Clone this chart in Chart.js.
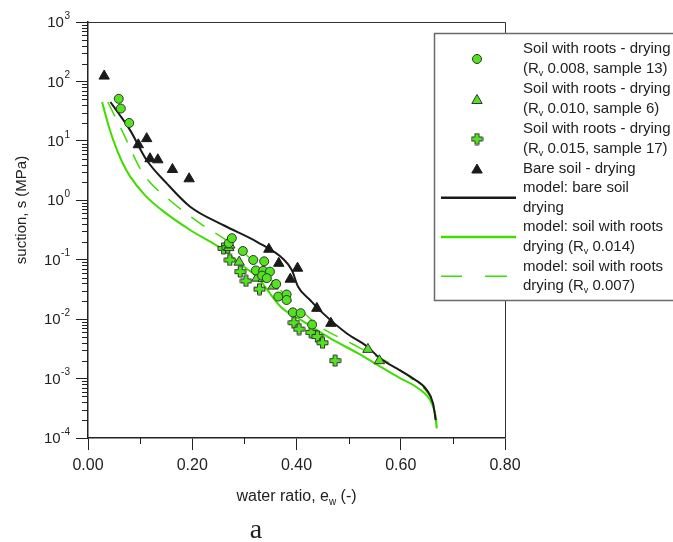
<!DOCTYPE html>
<html><head><meta charset="utf-8">
<script src="https://cdn.jsdelivr.net/npm/chart.js@4.4.1/dist/chart.umd.min.js"></script>
<style>html,body{margin:0;padding:0;background:#fff;}#wrap{position:relative;width:673px;height:542px;}</style>
</head><body><div id="wrap"><canvas id="c" width="673" height="542"></canvas></div>
<script>
// ---------- data ----------
const xMajorTicks = [0, 0.2, 0.4, 0.6, 0.8];
const xMinorTicks = [0.1, 0.3, 0.5, 0.7];
const yExponents = [3, 2, 1, 0, -1, -2, -3, -4];

const circX = [0.059, 0.063, 0.079, 0.27, 0.276, 0.297, 0.317, 0.338, 0.322, 0.336, 0.349, 0.334, 0.343, 0.361, 0.365, 0.381, 0.381, 0.393, 0.408, 0.43];
const circY = [51, 35, 20, 0.19, 0.23, 0.14, 0.099, 0.094, 0.066, 0.065, 0.063, 0.054, 0.049, 0.039, 0.024, 0.026, 0.021, 0.013, 0.0126, 0.0081];

const triX = [0.27, 0.272, 0.29, 0.324, 0.336, 0.355, 0.537, 0.559];
const triY = [0.16, 0.177, 0.091, 0.049, 0.048, 0.036, 0.0031, 0.002];

const crossX = [0.26, 0.268, 0.272, 0.292, 0.303, 0.329, 0.395, 0.405, 0.428, 0.44, 0.45, 0.474];
const crossY = [0.155, 0.16, 0.099, 0.063, 0.044, 0.032, 0.0087, 0.0068, 0.006, 0.0051, 0.004, 0.002];

const bareX = [0.031, 0.0965, 0.1126, 0.119, 0.134, 0.162, 0.194, 0.347, 0.366, 0.402, 0.388, 0.439, 0.466];
const bareY = [123, 8.6, 10.9, 5.0, 4.8, 3.3, 2.3, 0.15, 0.087, 0.072, 0.047, 0.0152, 0.0085];

const modelBareX = [0.043, 0.06, 0.081, 0.112, 0.151, 0.196, 0.26, 0.324, 0.375, 0.391, 0.403, 0.426, 0.451, 0.496, 0.535, 0.56, 0.6, 0.624, 0.65, 0.662, 0.667];
const modelBareY = [45, 28, 15, 4.8, 1.93, 0.78, 0.38, 0.2, 0.102, 0.067, 0.035, 0.021, 0.0125, 0.0058, 0.0035, 0.0022, 0.00135, 0.001, 0.00064, 0.00038, 0.0002];

const modelR014X = [0.027, 0.038, 0.049, 0.065, 0.081, 0.11, 0.141, 0.196, 0.26, 0.3, 0.324, 0.37, 0.41, 0.464, 0.52, 0.56, 0.6, 0.624, 0.645, 0.656, 0.664, 0.668, 0.669];
const modelR014Y = [45, 20, 10, 4.5, 2.5, 1.2, 0.69, 0.316, 0.146, 0.075, 0.052, 0.016, 0.0095, 0.0048, 0.0026, 0.0016, 0.001, 0.00078, 0.00057, 0.00044, 0.0003, 0.0002, 0.000145];

const modelR007X = [0.038, 0.065, 0.106, 0.157, 0.215, 0.27, 0.3, 0.33, 0.388, 0.445, 0.503, 0.54, 0.58, 0.624, 0.65, 0.662, 0.667, 0.669];
const modelR007Y = [45, 15, 2.8, 1.0, 0.41, 0.2, 0.13, 0.07, 0.021, 0.0075, 0.004, 0.0027, 0.0018, 0.00095, 0.0006, 0.00036, 0.0002, 0.00015];

const legendLabels = [
  ["Soil with roots - drying", ["(R", "v", " 0.008, sample 13)"]],
  ["Soil with roots - drying", ["(R", "v", " 0.010, sample 6)"]],
  ["Soil with roots - drying", ["(R", "v", " 0.015, sample 17)"]],
  ["Bare soil - drying"],
  ["model: bare soil", "drying"],
  ["model: soil with roots", ["drying (R", "v", " 0.014)"]],
  ["model: soil with roots", ["drying (R", "v", " 0.007)"]]
];
const xTitle = ["water ratio, e", "w", " (-)"];
const yTitle = "suction, s (MPa)";
const panelLabel = "a";

// ---------- styles ----------
const GREEN = '#52e31f';
const GREEN_LINE = '#3fdd00';
const EDGE = '#333333';
const DARK = '#1a1a1a';
const FONT = "'Liberation Sans', Arial, sans-serif";
const TXT = '#222222';

const pts = (xs, ys) => xs.map((v, i) => ({x: v, y: ys[i]}));

function makePlus(size, arm) {
  const c = document.createElement('canvas');
  c.width = size + 2; c.height = size + 2;
  const g = c.getContext('2d');
  const o = 1, s = size, h = (s - arm) / 2;
  g.beginPath();
  g.moveTo(o + h, o); g.lineTo(o + h + arm, o); g.lineTo(o + h + arm, o + h);
  g.lineTo(o + s, o + h); g.lineTo(o + s, o + h + arm); g.lineTo(o + h + arm, o + h + arm);
  g.lineTo(o + h + arm, o + s); g.lineTo(o + h, o + s); g.lineTo(o + h, o + h + arm);
  g.lineTo(o, o + h + arm); g.lineTo(o, o + h); g.lineTo(o + h, o + h); g.closePath();
  g.fillStyle = GREEN; g.fill();
  g.lineWidth = 1; g.strokeStyle = EDGE; g.stroke();
  return c;
}
const plusImg = makePlus(11, 4);

function drawSubText(ctx, parts, x, y, size) {
  let cx = x;
  parts.forEach((p, i) => {
    const sub = (i % 2 === 1);
    ctx.font = (sub ? Math.round(size * 0.62) : size) + 'px ' + FONT;
    ctx.fillText(p, cx, sub ? y + size * 0.3 : y);
    cx += ctx.measureText(p).width;
  });
}

const decor = {
  id: 'decor',
  afterDraw(chart) {
    const {ctx, chartArea: a, scales: {x, y}} = chart;
    ctx.save();
    // frame top/right
    ctx.strokeStyle = EDGE; ctx.lineWidth = 1;
    ctx.beginPath();
    ctx.moveTo(a.left, a.top + 0.5); ctx.lineTo(a.right + 0.5, a.top + 0.5); ctx.lineTo(a.right + 0.5, a.bottom);
    ctx.stroke();
    // minor ticks
    ctx.strokeStyle = '#222'; ctx.lineWidth = 1;
    ctx.beginPath();
    yExponents.forEach(e => {
      if (e >= 3) return;
      for (let m = 2; m < 10; m++) {
        const py = Math.round(y.getPixelForValue(m * Math.pow(10, e))) + 0.5;
        ctx.moveTo(a.left - 6, py); ctx.lineTo(a.left, py);
      }
    });
    xMinorTicks.forEach(v => {
      const px = Math.round(x.getPixelForValue(v)) + 0.5;
      ctx.moveTo(px, a.bottom); ctx.lineTo(px, a.bottom + 6);
    });
    ctx.stroke();
    // y tick labels 10^n
    ctx.fillStyle = TXT; ctx.textBaseline = 'middle'; ctx.textAlign = 'left';
    yExponents.forEach(e => {
      const py = y.getPixelForValue(Math.pow(10, e));
      ctx.font = '10px ' + FONT;
      const es = String(e);
      const ew = ctx.measureText(es).width;
      ctx.fillText(es, 70 - ew, py - 6);
      ctx.font = '15px ' + FONT;
      const bw = ctx.measureText('10').width;
      ctx.fillText('10', 70 - ew - bw - 0.5, py + 1);
    });
    // x title
    ctx.textBaseline = 'middle'; ctx.fillStyle = TXT;
    ctx.font = '16px ' + FONT;
    let tw = ctx.measureText(xTitle[0]).width + ctx.measureText(xTitle[2]).width;
    ctx.font = '10px ' + FONT; tw += ctx.measureText(xTitle[1]).width;
    drawSubText(ctx, xTitle, (a.left + a.right) / 2 - tw / 2, 497, 16);
    // y title
    ctx.save();
    ctx.translate(22, 210); ctx.rotate(-Math.PI / 2);
    ctx.textAlign = 'center'; ctx.font = '15px ' + FONT;
    ctx.fillText(yTitle, 0, 0);
    ctx.restore();
    // panel label
    ctx.font = '28px "Liberation Serif", "Times New Roman", serif';
    ctx.textAlign = 'center'; ctx.textBaseline = 'alphabetic';
    ctx.fillText(panelLabel, 256, 538);
    // legend
    const L = {l: 434.5, t: 33.5, r: 690, b: 300.5};
    ctx.fillStyle = '#fff'; ctx.fillRect(L.l, L.t, L.r - L.l, L.b - L.t);
    ctx.strokeStyle = '#6a6a6a'; ctx.lineWidth = 1.5; ctx.strokeRect(L.l, L.t, L.r - L.l, L.b - L.t);
    const rows = [49, 69, 89, 109, 129, 149, 168.5, 188, 207.5, 227, 247, 266.5, 286];
    const tx = 523, sx = 477;
    let r = 0;
    ctx.textAlign = 'left'; ctx.textBaseline = 'middle';
    const symY = [];
    legendLabels.forEach(lbl => {
      const ys = [];
      lbl.forEach(line => {
        ctx.fillStyle = TXT;
        if (Array.isArray(line)) drawSubText(ctx, line, tx, rows[r], 15);
        else { ctx.font = '15px ' + FONT; ctx.fillText(line, tx, rows[r]); }
        ys.push(rows[r]); r++;
      });
      symY.push(ys.reduce((s, v) => s + v, 0) / ys.length);
    });
    const dp = Chart.helpers.drawPoint;
    ctx.lineWidth = 1; ctx.strokeStyle = EDGE; ctx.fillStyle = GREEN;
    dp(ctx, {pointStyle: 'circle', radius: 4.5, rotation: 0, borderWidth: 1}, sx, symY[0]);
    ctx.strokeStyle = EDGE; ctx.fillStyle = GREEN;
    dp(ctx, {pointStyle: 'triangle', radius: 6, rotation: 0, borderWidth: 1}, sx, symY[1] + 1.5);
    ctx.drawImage(plusImg, sx - plusImg.width / 2, symY[2] - plusImg.height / 2);
    ctx.strokeStyle = DARK; ctx.fillStyle = DARK;
    dp(ctx, {pointStyle: 'triangle', radius: 6, rotation: 0, borderWidth: 1}, sx, symY[3] + 1.5);
    ctx.lineWidth = 2.5; ctx.strokeStyle = DARK;
    ctx.beginPath(); ctx.moveTo(441, symY[4]); ctx.lineTo(516, symY[4]); ctx.stroke();
    ctx.strokeStyle = GREEN_LINE;
    ctx.beginPath(); ctx.moveTo(441, symY[5]); ctx.lineTo(516, symY[5]); ctx.stroke();
    ctx.lineWidth = 1.5;
    ctx.beginPath(); ctx.moveTo(441, symY[6]); ctx.lineTo(462, symY[6]); ctx.moveTo(485, symY[6]); ctx.lineTo(507, symY[6]); ctx.stroke();
    ctx.restore();
  }
};

new Chart(document.getElementById('c'), {
  type: 'scatter',
  data: {
    datasets: [
      {label: 'model: bare soil drying', type: 'line', data: pts(modelBareX, modelBareY), borderColor: DARK, borderWidth: 2, pointRadius: 0, fill: false, cubicInterpolationMode: 'monotone', order: 5},
      {label: 'model: soil with roots drying (Rv 0.014)', type: 'line', data: pts(modelR014X, modelR014Y), borderColor: GREEN_LINE, borderWidth: 2, pointRadius: 0, fill: false, cubicInterpolationMode: 'monotone', order: 6},
      {label: 'model: soil with roots drying (Rv 0.007)', type: 'line', data: pts(modelR007X, modelR007Y), borderColor: GREEN_LINE, borderWidth: 1.5, borderDash: [16, 13], pointRadius: 0, fill: false, cubicInterpolationMode: 'monotone', order: 7},
      {label: 'Bare soil - drying', data: pts(bareX, bareY), pointStyle: 'triangle', pointRadius: 6, backgroundColor: DARK, borderColor: DARK, borderWidth: 1, order: 4},
      {label: 'Soil with roots (Rv 0.015, sample 17)', data: pts(crossX, crossY), pointStyle: plusImg, pointRadius: 6, order: 3},
      {label: 'Soil with roots (Rv 0.010, sample 6)', data: pts(triX, triY), pointStyle: 'triangle', pointRadius: 6, backgroundColor: GREEN, borderColor: EDGE, borderWidth: 1, order: 2},
      {label: 'Soil with roots (Rv 0.008, sample 13)', data: pts(circX, circY), pointStyle: 'circle', pointRadius: 4.5, backgroundColor: GREEN, borderColor: EDGE, borderWidth: 1, order: 1}
    ]
  },
  options: {
    responsive: false, animation: false, devicePixelRatio: 1,
    layout: {padding: {left: 0, top: 22, right: 168, bottom: 0}},
    plugins: {legend: {display: false}, tooltip: {enabled: false}},
    scales: {
      x: {
        type: 'linear', min: 0, max: 0.8,
        afterBuildTicks: s => { s.ticks = xMajorTicks.map(v => ({value: v})); },
        afterFit: s => { s.height = 104; },
        ticks: {callback: v => Number(v).toFixed(2), font: {family: FONT, size: 16}, color: TXT, padding: 6, maxRotation: 0, autoSkip: false},
        grid: {drawOnChartArea: false, drawTicks: true, tickLength: 12, color: '#222', lineWidth: 1},
        border: {color: '#222', width: 1.5}
      },
      y: {
        type: 'logarithmic', min: 1e-4, max: 1e3,
        afterBuildTicks: s => { s.ticks = yExponents.map(e => ({value: Math.pow(10, e)})); },
        afterFit: s => { s.width = 88; },
        ticks: {display: false},
        grid: {drawOnChartArea: false, drawTicks: true, tickLength: 12, color: '#222', lineWidth: 1},
        border: {color: '#222', width: 1.5}
      }
    }
  },
  plugins: [decor]
});
</script></body></html>
